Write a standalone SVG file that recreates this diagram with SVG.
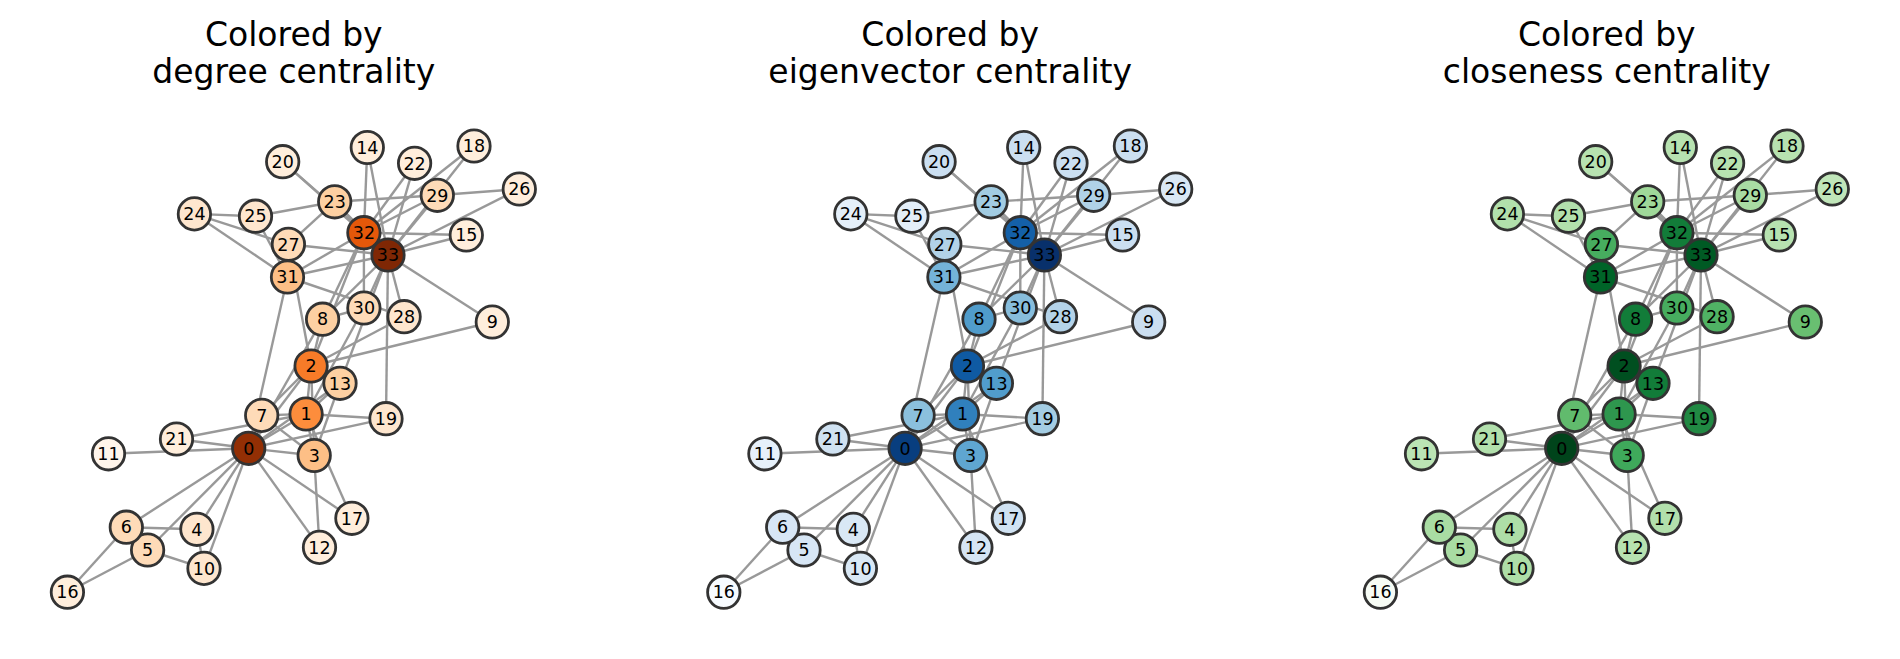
<svg xmlns="http://www.w3.org/2000/svg" width="1900" height="659" viewBox="0 0 1900 659">
<style>
.title{font-family:"DejaVu Sans",sans-serif;font-size:33px;text-anchor:middle;fill:#000}
.n circle{stroke:#333;stroke-width:2.8}
.n text{font-family:"DejaVu Sans",sans-serif;font-size:17.5px;text-anchor:middle;fill:#000}
</style>
<defs>
<g id="edgeset" stroke="#999" stroke-width="2.4" fill="none">
<line x1="248.7" y1="448.3" x2="306.1" y2="414"/>
<line x1="248.7" y1="448.3" x2="311.1" y2="366"/>
<line x1="248.7" y1="448.3" x2="314.2" y2="455.5"/>
<line x1="248.7" y1="448.3" x2="196.9" y2="529.3"/>
<line x1="248.7" y1="448.3" x2="147.6" y2="550"/>
<line x1="248.7" y1="448.3" x2="126.3" y2="527.2"/>
<line x1="248.7" y1="448.3" x2="261.7" y2="415.4"/>
<line x1="248.7" y1="448.3" x2="322.6" y2="319.2"/>
<line x1="248.7" y1="448.3" x2="204" y2="568.4"/>
<line x1="248.7" y1="448.3" x2="108.5" y2="453.8"/>
<line x1="248.7" y1="448.3" x2="319.5" y2="547.4"/>
<line x1="248.7" y1="448.3" x2="340" y2="383.3"/>
<line x1="248.7" y1="448.3" x2="351.9" y2="518.3"/>
<line x1="248.7" y1="448.3" x2="386" y2="418.7"/>
<line x1="248.7" y1="448.3" x2="176.5" y2="439"/>
<line x1="248.7" y1="448.3" x2="287.5" y2="277"/>
<line x1="306.1" y1="414" x2="311.1" y2="366"/>
<line x1="306.1" y1="414" x2="314.2" y2="455.5"/>
<line x1="306.1" y1="414" x2="261.7" y2="415.4"/>
<line x1="306.1" y1="414" x2="340" y2="383.3"/>
<line x1="306.1" y1="414" x2="351.9" y2="518.3"/>
<line x1="306.1" y1="414" x2="386" y2="418.7"/>
<line x1="306.1" y1="414" x2="176.5" y2="439"/>
<line x1="306.1" y1="414" x2="363.9" y2="308"/>
<line x1="311.1" y1="366" x2="314.2" y2="455.5"/>
<line x1="311.1" y1="366" x2="261.7" y2="415.4"/>
<line x1="311.1" y1="366" x2="322.6" y2="319.2"/>
<line x1="311.1" y1="366" x2="492.3" y2="322"/>
<line x1="311.1" y1="366" x2="340" y2="383.3"/>
<line x1="311.1" y1="366" x2="288.4" y2="244.3"/>
<line x1="311.1" y1="366" x2="404.1" y2="316.7"/>
<line x1="311.1" y1="366" x2="363.9" y2="232.7"/>
<line x1="314.2" y1="455.5" x2="261.7" y2="415.4"/>
<line x1="314.2" y1="455.5" x2="319.5" y2="547.4"/>
<line x1="314.2" y1="455.5" x2="340" y2="383.3"/>
<line x1="196.9" y1="529.3" x2="126.3" y2="527.2"/>
<line x1="196.9" y1="529.3" x2="204" y2="568.4"/>
<line x1="147.6" y1="550" x2="126.3" y2="527.2"/>
<line x1="147.6" y1="550" x2="204" y2="568.4"/>
<line x1="147.6" y1="550" x2="67.4" y2="592.2"/>
<line x1="126.3" y1="527.2" x2="67.4" y2="592.2"/>
<line x1="322.6" y1="319.2" x2="363.9" y2="308"/>
<line x1="322.6" y1="319.2" x2="363.9" y2="232.7"/>
<line x1="322.6" y1="319.2" x2="388" y2="255"/>
<line x1="492.3" y1="322" x2="388" y2="255"/>
<line x1="340" y1="383.3" x2="388" y2="255"/>
<line x1="367.3" y1="147.5" x2="363.9" y2="232.7"/>
<line x1="367.3" y1="147.5" x2="388" y2="255"/>
<line x1="466.3" y1="235" x2="363.9" y2="232.7"/>
<line x1="466.3" y1="235" x2="388" y2="255"/>
<line x1="474" y1="146" x2="363.9" y2="232.7"/>
<line x1="474" y1="146" x2="388" y2="255"/>
<line x1="386" y1="418.7" x2="388" y2="255"/>
<line x1="282.7" y1="161.7" x2="363.9" y2="232.7"/>
<line x1="282.7" y1="161.7" x2="388" y2="255"/>
<line x1="414.6" y1="163.3" x2="363.9" y2="232.7"/>
<line x1="414.6" y1="163.3" x2="388" y2="255"/>
<line x1="334.7" y1="201.8" x2="255.5" y2="216.2"/>
<line x1="334.7" y1="201.8" x2="288.4" y2="244.3"/>
<line x1="334.7" y1="201.8" x2="437.3" y2="195.3"/>
<line x1="334.7" y1="201.8" x2="363.9" y2="232.7"/>
<line x1="334.7" y1="201.8" x2="388" y2="255"/>
<line x1="194.4" y1="213.9" x2="255.5" y2="216.2"/>
<line x1="194.4" y1="213.9" x2="288.4" y2="244.3"/>
<line x1="194.4" y1="213.9" x2="287.5" y2="277"/>
<line x1="255.5" y1="216.2" x2="287.5" y2="277"/>
<line x1="519.3" y1="189" x2="437.3" y2="195.3"/>
<line x1="519.3" y1="189" x2="388" y2="255"/>
<line x1="288.4" y1="244.3" x2="388" y2="255"/>
<line x1="404.1" y1="316.7" x2="287.5" y2="277"/>
<line x1="404.1" y1="316.7" x2="388" y2="255"/>
<line x1="437.3" y1="195.3" x2="363.9" y2="232.7"/>
<line x1="437.3" y1="195.3" x2="388" y2="255"/>
<line x1="363.9" y1="308" x2="363.9" y2="232.7"/>
<line x1="363.9" y1="308" x2="388" y2="255"/>
<line x1="287.5" y1="277" x2="363.9" y2="232.7"/>
<line x1="287.5" y1="277" x2="388" y2="255"/>
<line x1="363.9" y1="232.7" x2="388" y2="255"/>
</g>
</defs>
<rect width="1900" height="659" fill="#fff"/>

<g id="panel-degree">
<text class="title" x="293.8" y="46">Colored by</text>
<text class="title" x="293.8" y="82.7">degree centrality</text>
<g id="degree-connectors"><use href="#edgeset"/></g>
<g id="deg-nodes" class="n">
<g id="deg-0"><circle cx="248.7" cy="448.3" r="16.2" fill="#932f04"/><text x="248.7" y="454.5">0</text></g>
<g id="deg-1"><circle cx="306.1" cy="414" r="16.2" fill="#fd8d3c"/><text x="306.1" y="420.2">1</text></g>
<g id="deg-2"><circle cx="311.1" cy="366" r="16.2" fill="#f77b28"/><text x="311.1" y="372.2">2</text></g>
<g id="deg-3"><circle cx="314.2" cy="455.5" r="16.2" fill="#fdbf86"/><text x="314.2" y="461.7">3</text></g>
<g id="deg-4"><circle cx="196.9" cy="529.3" r="16.2" fill="#fee6ce"/><text x="196.9" y="535.5">4</text></g>
<g id="deg-5"><circle cx="147.6" cy="550" r="16.2" fill="#fedbb8"/><text x="147.6" y="556.2">5</text></g>
<g id="deg-6"><circle cx="126.3" cy="527.2" r="16.2" fill="#fedbb8"/><text x="126.3" y="533.4">6</text></g>
<g id="deg-7"><circle cx="261.7" cy="415.4" r="16.2" fill="#fedbb8"/><text x="261.7" y="421.6">7</text></g>
<g id="deg-8"><circle cx="322.6" cy="319.2" r="16.2" fill="#fdd0a2"/><text x="322.6" y="325.4">8</text></g>
<g id="deg-9"><circle cx="492.3" cy="322" r="16.2" fill="#ffeedc"/><text x="492.3" y="328.2">9</text></g>
<g id="deg-10"><circle cx="204" cy="568.4" r="16.2" fill="#fee6ce"/><text x="204" y="574.6">10</text></g>
<g id="deg-11"><circle cx="108.5" cy="453.8" r="16.2" fill="#fff5eb"/><text x="108.5" y="460">11</text></g>
<g id="deg-12"><circle cx="319.5" cy="547.4" r="16.2" fill="#ffeedc"/><text x="319.5" y="553.6">12</text></g>
<g id="deg-13"><circle cx="340" cy="383.3" r="16.2" fill="#fdd0a2"/><text x="340" y="389.5">13</text></g>
<g id="deg-14"><circle cx="367.3" cy="147.5" r="16.2" fill="#ffeedc"/><text x="367.3" y="153.7">14</text></g>
<g id="deg-15"><circle cx="466.3" cy="235" r="16.2" fill="#ffeedc"/><text x="466.3" y="241.2">15</text></g>
<g id="deg-16"><circle cx="67.4" cy="592.2" r="16.2" fill="#ffeedc"/><text x="67.4" y="598.4">16</text></g>
<g id="deg-17"><circle cx="351.9" cy="518.3" r="16.2" fill="#ffeedc"/><text x="351.9" y="524.5">17</text></g>
<g id="deg-18"><circle cx="474" cy="146" r="16.2" fill="#ffeedc"/><text x="474" y="152.2">18</text></g>
<g id="deg-19"><circle cx="386" cy="418.7" r="16.2" fill="#fee6ce"/><text x="386" y="424.9">19</text></g>
<g id="deg-20"><circle cx="282.7" cy="161.7" r="16.2" fill="#ffeedc"/><text x="282.7" y="167.9">20</text></g>
<g id="deg-21"><circle cx="176.5" cy="439" r="16.2" fill="#ffeedc"/><text x="176.5" y="445.2">21</text></g>
<g id="deg-22"><circle cx="414.6" cy="163.3" r="16.2" fill="#ffeedc"/><text x="414.6" y="169.5">22</text></g>
<g id="deg-23"><circle cx="334.7" cy="201.8" r="16.2" fill="#fdd0a2"/><text x="334.7" y="208">23</text></g>
<g id="deg-24"><circle cx="194.4" cy="213.9" r="16.2" fill="#fee6ce"/><text x="194.4" y="220.1">24</text></g>
<g id="deg-25"><circle cx="255.5" cy="216.2" r="16.2" fill="#fee6ce"/><text x="255.5" y="222.4">25</text></g>
<g id="deg-26"><circle cx="519.3" cy="189" r="16.2" fill="#ffeedc"/><text x="519.3" y="195.2">26</text></g>
<g id="deg-27"><circle cx="288.4" cy="244.3" r="16.2" fill="#fedbb8"/><text x="288.4" y="250.5">27</text></g>
<g id="deg-28"><circle cx="404.1" cy="316.7" r="16.2" fill="#fee6ce"/><text x="404.1" y="322.9">28</text></g>
<g id="deg-29"><circle cx="437.3" cy="195.3" r="16.2" fill="#fedbb8"/><text x="437.3" y="201.5">29</text></g>
<g id="deg-30"><circle cx="363.9" cy="308" r="16.2" fill="#fedbb8"/><text x="363.9" y="314.2">30</text></g>
<g id="deg-31"><circle cx="287.5" cy="277" r="16.2" fill="#fdbf86"/><text x="287.5" y="283.2">31</text></g>
<g id="deg-32"><circle cx="363.9" cy="232.7" r="16.2" fill="#e5580a"/><text x="363.9" y="238.9">32</text></g>
<g id="deg-33"><circle cx="388" cy="255" r="16.2" fill="#7f2704"/><text x="388" y="261.2">33</text></g>
</g>
</g>

<g id="panel-eigenvector" transform="translate(656.4,0)">
<text class="title" x="293.8" y="46">Colored by</text>
<text class="title" x="293.8" y="82.7">eigenvector centrality</text>
<g id="eig-connectors"><use href="#edgeset"/></g>
<g id="eig-nodes" class="n">
<g id="eig-0"><circle cx="248.7" cy="448.3" r="16.2" fill="#083e7f"/><text x="248.7" y="454.5">0</text></g>
<g id="eig-1"><circle cx="306.1" cy="414" r="16.2" fill="#3080bd"/><text x="306.1" y="420.2">1</text></g>
<g id="eig-2"><circle cx="311.1" cy="366" r="16.2" fill="#0f5aa3"/><text x="311.1" y="372.2">2</text></g>
<g id="eig-3"><circle cx="314.2" cy="455.5" r="16.2" fill="#5fa6d1"/><text x="314.2" y="461.7">3</text></g>
<g id="eig-4"><circle cx="196.9" cy="529.3" r="16.2" fill="#d9e8f5"/><text x="196.9" y="535.5">4</text></g>
<g id="eig-5"><circle cx="147.6" cy="550" r="16.2" fill="#d7e6f5"/><text x="147.6" y="556.2">5</text></g>
<g id="eig-6"><circle cx="126.3" cy="527.2" r="16.2" fill="#d7e6f5"/><text x="126.3" y="533.4">6</text></g>
<g id="eig-7"><circle cx="261.7" cy="415.4" r="16.2" fill="#8bc0dd"/><text x="261.7" y="421.6">7</text></g>
<g id="eig-8"><circle cx="322.6" cy="319.2" r="16.2" fill="#509ccb"/><text x="322.6" y="325.4">8</text></g>
<g id="eig-9"><circle cx="492.3" cy="322" r="16.2" fill="#cbdef0"/><text x="492.3" y="328.2">9</text></g>
<g id="eig-10"><circle cx="204" cy="568.4" r="16.2" fill="#d9e8f5"/><text x="204" y="574.6">10</text></g>
<g id="eig-11"><circle cx="108.5" cy="453.8" r="16.2" fill="#e6f0fa"/><text x="108.5" y="460">11</text></g>
<g id="eig-12"><circle cx="319.5" cy="547.4" r="16.2" fill="#d5e5f4"/><text x="319.5" y="553.6">12</text></g>
<g id="eig-13"><circle cx="340" cy="383.3" r="16.2" fill="#519dcc"/><text x="340" y="389.5">13</text></g>
<g id="eig-14"><circle cx="367.3" cy="147.5" r="16.2" fill="#cbdff1"/><text x="367.3" y="153.7">14</text></g>
<g id="eig-15"><circle cx="466.3" cy="235" r="16.2" fill="#cbdff1"/><text x="466.3" y="241.2">15</text></g>
<g id="eig-16"><circle cx="67.4" cy="592.2" r="16.2" fill="#f7fbff"/><text x="67.4" y="598.4">16</text></g>
<g id="eig-17"><circle cx="351.9" cy="518.3" r="16.2" fill="#d0e2f2"/><text x="351.9" y="524.5">17</text></g>
<g id="eig-18"><circle cx="474" cy="146" r="16.2" fill="#cbdff1"/><text x="474" y="152.2">18</text></g>
<g id="eig-19"><circle cx="386" cy="418.7" r="16.2" fill="#a4cde3"/><text x="386" y="424.9">19</text></g>
<g id="eig-20"><circle cx="282.7" cy="161.7" r="16.2" fill="#cbdff1"/><text x="282.7" y="167.9">20</text></g>
<g id="eig-21"><circle cx="176.5" cy="439" r="16.2" fill="#d0e2f2"/><text x="176.5" y="445.2">21</text></g>
<g id="eig-22"><circle cx="414.6" cy="163.3" r="16.2" fill="#cbdff1"/><text x="414.6" y="169.5">22</text></g>
<g id="eig-23"><circle cx="334.7" cy="201.8" r="16.2" fill="#a2cce2"/><text x="334.7" y="208">23</text></g>
<g id="eig-24"><circle cx="194.4" cy="213.9" r="16.2" fill="#e4eff9"/><text x="194.4" y="220.1">24</text></g>
<g id="eig-25"><circle cx="255.5" cy="216.2" r="16.2" fill="#e3eef8"/><text x="255.5" y="222.4">25</text></g>
<g id="eig-26"><circle cx="519.3" cy="189" r="16.2" fill="#d9e8f5"/><text x="519.3" y="195.2">26</text></g>
<g id="eig-27"><circle cx="288.4" cy="244.3" r="16.2" fill="#b2d2e8"/><text x="288.4" y="250.5">27</text></g>
<g id="eig-28"><circle cx="404.1" cy="316.7" r="16.2" fill="#b4d3e9"/><text x="404.1" y="322.9">28</text></g>
<g id="eig-29"><circle cx="437.3" cy="195.3" r="16.2" fill="#b0d2e7"/><text x="437.3" y="201.5">29</text></g>
<g id="eig-30"><circle cx="363.9" cy="308" r="16.2" fill="#87bddc"/><text x="363.9" y="314.2">30</text></g>
<g id="eig-31"><circle cx="287.5" cy="277" r="16.2" fill="#74b3d8"/><text x="287.5" y="283.2">31</text></g>
<g id="eig-32"><circle cx="363.9" cy="232.7" r="16.2" fill="#1460a8"/><text x="363.9" y="238.9">32</text></g>
<g id="eig-33"><circle cx="388" cy="255" r="16.2" fill="#08306b"/><text x="388" y="261.2">33</text></g>
</g>
</g>

<g id="panel-closeness" transform="translate(1313,0)">
<text class="title" x="293.8" y="46">Colored by</text>
<text class="title" x="293.8" y="82.7">closeness centrality</text>
<g id="clo-connectors"><use href="#edgeset"/></g>
<g id="clo-nodes" class="n">
<g id="clo-0"><circle cx="248.7" cy="448.3" r="16.2" fill="#00441b"/><text x="248.7" y="454.5">0</text></g>
<g id="clo-1"><circle cx="306.1" cy="414" r="16.2" fill="#2e964e"/><text x="306.1" y="420.2">1</text></g>
<g id="clo-2"><circle cx="311.1" cy="366" r="16.2" fill="#004f20"/><text x="311.1" y="372.2">2</text></g>
<g id="clo-3"><circle cx="314.2" cy="455.5" r="16.2" fill="#3fa95b"/><text x="314.2" y="461.7">3</text></g>
<g id="clo-4"><circle cx="196.9" cy="529.3" r="16.2" fill="#aedea7"/><text x="196.9" y="535.5">4</text></g>
<g id="clo-5"><circle cx="147.6" cy="550" r="16.2" fill="#a9dca3"/><text x="147.6" y="556.2">5</text></g>
<g id="clo-6"><circle cx="126.3" cy="527.2" r="16.2" fill="#a9dca3"/><text x="126.3" y="533.4">6</text></g>
<g id="clo-7"><circle cx="261.7" cy="415.4" r="16.2" fill="#61bb6d"/><text x="261.7" y="421.6">7</text></g>
<g id="clo-8"><circle cx="322.6" cy="319.2" r="16.2" fill="#127c39"/><text x="322.6" y="325.4">8</text></g>
<g id="clo-9"><circle cx="492.3" cy="322" r="16.2" fill="#69bf71"/><text x="492.3" y="328.2">9</text></g>
<g id="clo-10"><circle cx="204" cy="568.4" r="16.2" fill="#aedea7"/><text x="204" y="574.6">10</text></g>
<g id="clo-11"><circle cx="108.5" cy="453.8" r="16.2" fill="#bbe4b4"/><text x="108.5" y="460">11</text></g>
<g id="clo-12"><circle cx="319.5" cy="547.4" r="16.2" fill="#b7e2b0"/><text x="319.5" y="553.6">12</text></g>
<g id="clo-13"><circle cx="340" cy="383.3" r="16.2" fill="#127c39"/><text x="340" y="389.5">13</text></g>
<g id="clo-14"><circle cx="367.3" cy="147.5" r="16.2" fill="#b7e2b0"/><text x="367.3" y="153.7">14</text></g>
<g id="clo-15"><circle cx="466.3" cy="235" r="16.2" fill="#b7e2b0"/><text x="466.3" y="241.2">15</text></g>
<g id="clo-16"><circle cx="67.4" cy="592.2" r="16.2" fill="#f7fcf5"/><text x="67.4" y="598.4">16</text></g>
<g id="clo-17"><circle cx="351.9" cy="518.3" r="16.2" fill="#b2e0ac"/><text x="351.9" y="524.5">17</text></g>
<g id="clo-18"><circle cx="474" cy="146" r="16.2" fill="#b7e2b0"/><text x="474" y="152.2">18</text></g>
<g id="clo-19"><circle cx="386" cy="418.7" r="16.2" fill="#218943"/><text x="386" y="424.9">19</text></g>
<g id="clo-20"><circle cx="282.7" cy="161.7" r="16.2" fill="#b7e2b0"/><text x="282.7" y="167.9">20</text></g>
<g id="clo-21"><circle cx="176.5" cy="439" r="16.2" fill="#b2e0ac"/><text x="176.5" y="445.2">21</text></g>
<g id="clo-22"><circle cx="414.6" cy="163.3" r="16.2" fill="#b7e2b0"/><text x="414.6" y="169.5">22</text></g>
<g id="clo-23"><circle cx="334.7" cy="201.8" r="16.2" fill="#9fd899"/><text x="334.7" y="208">23</text></g>
<g id="clo-24"><circle cx="194.4" cy="213.9" r="16.2" fill="#b2e0ac"/><text x="194.4" y="220.1">24</text></g>
<g id="clo-25"><circle cx="255.5" cy="216.2" r="16.2" fill="#b2e0ac"/><text x="255.5" y="222.4">25</text></g>
<g id="clo-26"><circle cx="519.3" cy="189" r="16.2" fill="#c0e6b9"/><text x="519.3" y="195.2">26</text></g>
<g id="clo-27"><circle cx="288.4" cy="244.3" r="16.2" fill="#47ad5f"/><text x="288.4" y="250.5">27</text></g>
<g id="clo-28"><circle cx="404.1" cy="316.7" r="16.2" fill="#50b264"/><text x="404.1" y="322.9">28</text></g>
<g id="clo-29"><circle cx="437.3" cy="195.3" r="16.2" fill="#a9dca3"/><text x="437.3" y="201.5">29</text></g>
<g id="clo-30"><circle cx="363.9" cy="308" r="16.2" fill="#47ad5f"/><text x="363.9" y="314.2">30</text></g>
<g id="clo-31"><circle cx="287.5" cy="277" r="16.2" fill="#006428"/><text x="287.5" y="283.2">31</text></g>
<g id="clo-32"><circle cx="363.9" cy="232.7" r="16.2" fill="#127c39"/><text x="363.9" y="238.9">32</text></g>
<g id="clo-33"><circle cx="388" cy="255" r="16.2" fill="#005a24"/><text x="388" y="261.2">33</text></g>
</g>
</g>
</svg>
